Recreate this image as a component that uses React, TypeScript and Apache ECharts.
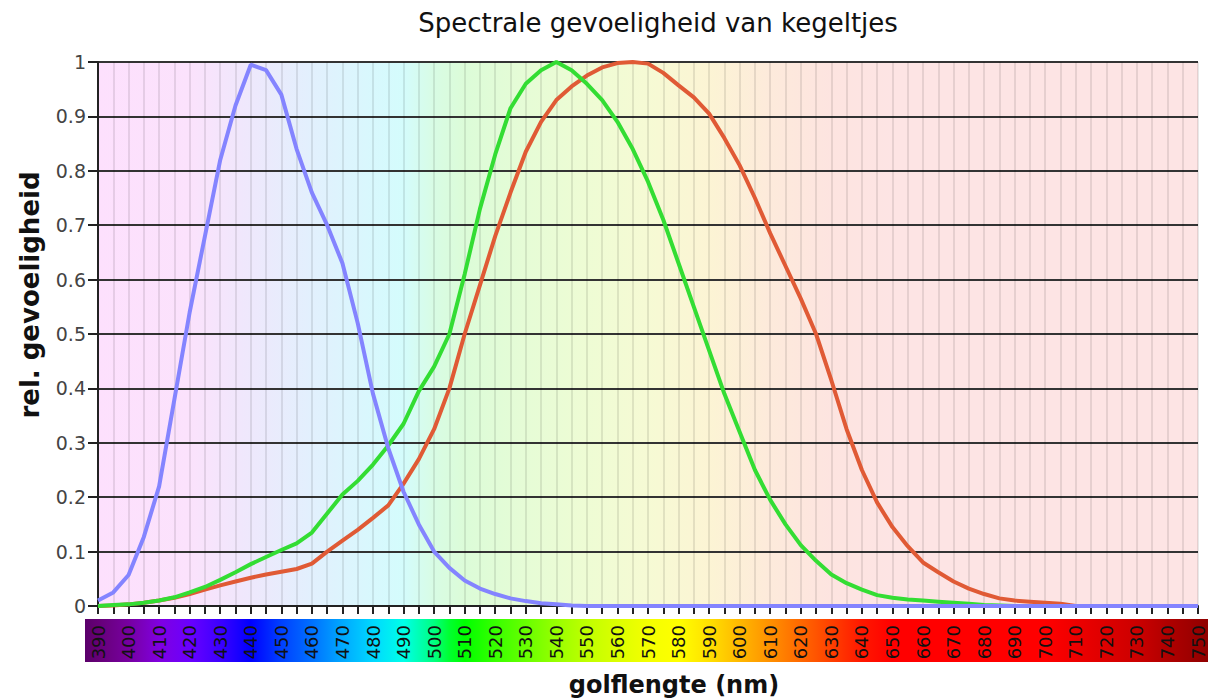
import React, { useEffect, useRef } from "react";
import * as echarts from "echarts";

const title = "Spectrale gevoeligheid van kegeltjes";
const xName = "golflengte (nm)";
const yName = "rel. gevoeligheid";

// wavelengths 390..750 step 5
const wavelengths: number[] = [
  390, 395, 400, 405, 410, 415, 420, 425, 430, 435, 440, 445, 450, 455, 460, 465, 470, 475, 480, 485,
  490, 495, 500, 505, 510, 515, 520, 525, 530, 535, 540, 545, 550, 555, 560, 565, 570, 575, 580, 585,
  590, 595, 600, 605, 610, 615, 620, 625, 630, 635, 640, 645, 650, 655, 660, 665, 670, 675, 680, 685,
  690, 695, 700, 705, 710, 715, 720, 725, 730, 735, 740, 745, 750,
];

const sCone: number[] = [
  0.01, 0.025, 0.057, 0.127, 0.22, 0.38, 0.54, 0.68, 0.82, 0.92, 0.995, 0.985, 0.94, 0.84, 0.76, 0.70, 0.63, 0.52, 0.39, 0.29,
  0.21, 0.15, 0.1, 0.07, 0.047, 0.032, 0.022, 0.014, 0.009, 0.005, 0.003, 0.001, 0, 0, 0, 0, 0, 0, 0, 0,
  0, 0, 0, 0, 0, 0, 0, 0, 0, 0, 0, 0, 0, 0, 0, 0, 0, 0, 0, 0,
  0, 0, 0, 0, 0, 0, 0, 0, 0, 0, 0, 0, 0,
];

const mCone: number[] = [
  0.0, 0.002, 0.003, 0.006, 0.01, 0.016, 0.025, 0.035, 0.048, 0.062, 0.077, 0.09, 0.103, 0.115, 0.135, 0.17, 0.205, 0.23, 0.26, 0.295,
  0.335, 0.395, 0.44, 0.5, 0.61, 0.73, 0.83, 0.915, 0.96, 0.985, 1.0, 0.985, 0.96, 0.93, 0.89, 0.84, 0.78, 0.71, 0.63, 0.55,
  0.47, 0.39, 0.32, 0.25, 0.195, 0.15, 0.112, 0.083, 0.058, 0.042, 0.03, 0.02, 0.015, 0.012, 0.01, 0.008, 0.006, 0.004, 0.002, 0.001,
  0, 0, 0, 0, 0, 0, 0, 0, 0, 0, 0, 0, 0,
];

const lCone: number[] = [
  0.0, 0.001, 0.003, 0.006, 0.01, 0.015, 0.022, 0.03, 0.038, 0.045, 0.052, 0.058, 0.063, 0.068, 0.078, 0.1, 0.12, 0.14, 0.162, 0.185,
  0.225, 0.27, 0.325, 0.4, 0.5, 0.59, 0.68, 0.76, 0.835, 0.89, 0.93, 0.955, 0.975, 0.99, 0.998, 1.0, 0.997, 0.98, 0.957, 0.935,
  0.905, 0.86, 0.81, 0.75, 0.685, 0.625, 0.565, 0.5, 0.415, 0.325, 0.25, 0.19, 0.145, 0.11, 0.08, 0.062, 0.045, 0.032, 0.022, 0.014,
  0.01, 0.008, 0.006, 0.004, 0, 0, 0, 0, 0, 0, 0, 0, 0,
];

// spectrum bar colours (wavelength, colour)
const spectrumNm: number[] = [385, 390, 400, 410, 420, 430, 440, 450, 460, 470, 480, 490, 500, 505, 510, 520, 530, 540, 550, 560, 570, 580, 590, 600, 610, 620, 630, 640, 650, 700, 710, 720, 730, 740, 750, 753];
const spectrumColors: string[] = ["#5a006a", "#660077", "#7700a0", "#8000e0", "#6a00ff", "#3c00ff", "#0000ff", "#0040ff", "#0070ff", "#00a8ff", "#00d8ff", "#00ffe8", "#00ff80", "#00ff30", "#00ff00", "#38ff00", "#68ff00", "#98ff00", "#c0ff00", "#dcff00", "#f4ff00", "#ffff00", "#ffe000", "#ffb800", "#ff9000", "#ff6800", "#ff4000", "#ff1800", "#ff0000", "#ff0000", "#ee0000", "#dd0000", "#cc0000", "#b00000", "#980000", "#900000"];

// pale plot background colours
const bgNm: number[] = [390, 420, 440, 460, 480, 490, 500, 510, 530, 550, 570, 590, 610, 630, 650, 750];
const bgColors: string[] = ["#fde0fd", "#fbe2fc", "#eee8fc", "#e2f0fd", "#d8f8fd", "#d4fcfc", "#d8fce4", "#dcfcd8", "#e6fcd6", "#eefcd4", "#f6fad4", "#fcf4d4", "#fdeadb", "#fde4e0", "#fde4e4", "#fde4e4"];

const X_MIN = 390;
const X_MAX = 750;

export default function App() {
  const ref = useRef<HTMLDivElement>(null);

  useEffect(() => {
    if (!ref.current) return;
    const chart = echarts.init(ref.current, null, { renderer: "svg" });

    const barLeft = 85;
    const barRight = 1208;
    const plotLeft = 98;
    const plotRight = 1198;
    const pxPerNm = (plotRight - plotLeft) / (X_MAX - X_MIN);
    const nmToBarOffset = (nm: number) => {
      const px = plotLeft + (nm - X_MIN) * pxPerNm;
      return Math.min(1, Math.max(0, (px - barLeft) / (barRight - barLeft)));
    };

    const spectrumGradient = new echarts.graphic.LinearGradient(
      0, 0, 1, 0,
      spectrumNm.map((nm, i) => ({ offset: nmToBarOffset(nm), color: spectrumColors[i] }))
    );
    const bgGradient = new echarts.graphic.LinearGradient(
      0, 0, 1, 0,
      bgNm.map((nm, i) => ({ offset: (nm - X_MIN) / (X_MAX - X_MIN), color: bgColors[i] }))
    );

    const mk = (arr: number[]) => wavelengths.map((w, i) => [w, arr[i]]);

    chart.setOption({
      animation: false,
      grid: {
        left: plotLeft,
        right: 1208 - plotRight,
        top: 62,
        bottom: 699 - 606,
        show: true,
        backgroundColor: bgGradient,
        borderWidth: 0,
      },
      graphic: [
        {
          type: "rect",
          z: -1,
          shape: { x: barLeft, y: 619, width: barRight - barLeft, height: 43 },
          style: { fill: spectrumGradient },
        },
        {
          type: "text",
          x: 658,
          y: 23,
          style: {
            text: title,
            fontFamily: "DejaVu Sans",
            fontSize: 26,
            fill: "#111",
            textAlign: "center",
            textVerticalAlign: "middle",
          },
        },
        {
          type: "text",
          x: 674,
          y: 685,
          style: {
            text: xName,
            fontFamily: "DejaVu Sans",
            fontSize: 24,
            fontWeight: "bold",
            fill: "#111",
            textAlign: "center",
            textVerticalAlign: "middle",
          },
        },
        {
          type: "text",
          x: 30,
          y: 295,
          rotation: Math.PI / 2,
          style: {
            text: yName,
            fontFamily: "DejaVu Sans",
            fontSize: 26,
            fontWeight: "bold",
            fill: "#111",
            textAlign: "center",
            textVerticalAlign: "middle",
          },
        },
      ],
      xAxis: {
        type: "value",
        min: X_MIN,
        max: X_MAX,
        interval: 5,
        axisLine: { show: true, onZero: false, lineStyle: { color: "#222", width: 2 } },
        axisTick: { show: true, length: 8, lineStyle: { color: "#222", width: 2 } },
        axisLabel: {
          rotate: 90,
          margin: 19,
          fontFamily: "DejaVu Sans",
          fontSize: 18,
          color: "#111",
          formatter: (v: number) => (v % 10 === 0 ? String(v) : ""),
        },
        splitLine: { show: true, lineStyle: { color: "rgba(0,0,0,0.09)", width: 2 } },
      },
      yAxis: {
        type: "value",
        min: 0,
        max: 1,
        interval: 0.1,
        axisLine: { show: true, lineStyle: { color: "#222", width: 2 } },
        axisTick: { show: true, length: 10, lineStyle: { color: "#222", width: 2 } },
        axisLabel: {
          margin: 12,
          fontFamily: "DejaVu Sans",
          fontSize: 19,
          color: "#444",
          formatter: (v: number) => String(Math.round(v * 10) / 10),
        },
        splitLine: { show: true, lineStyle: { color: "#333", width: 2 } },
      },
      series: [
        {
          name: "L",
          type: "line",
          data: mk(lCone),
          showSymbol: false,
          symbol: "none",
          lineStyle: { color: "#e05a35", width: 4 },
          z: 3,
        },
        {
          name: "M",
          type: "line",
          data: mk(mCone),
          showSymbol: false,
          symbol: "none",
          lineStyle: { color: "#33dd33", width: 4 },
          z: 4,
        },
        {
          name: "S",
          type: "line",
          data: mk(sCone),
          showSymbol: false,
          symbol: "none",
          lineStyle: { color: "#8484ff", width: 4 },
          z: 5,
        },
      ],
    });

    return () => chart.dispose();
  }, []);

  return (
    <div
      ref={ref}
      style={{ position: "fixed", left: 0, top: 0, width: 1208, height: 699, background: "#fff" }}
    />
  );
}
